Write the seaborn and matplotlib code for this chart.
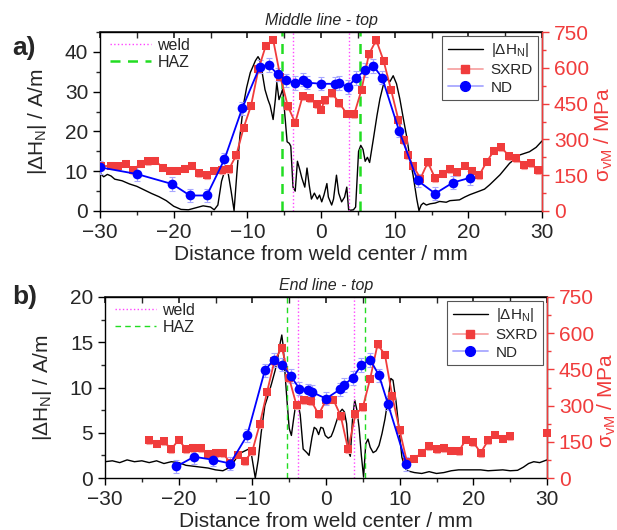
import numpy as np
import pandas as pd
import matplotlib
matplotlib.use("Agg")
import matplotlib.pyplot as plt
import seaborn as sns
from matplotlib.lines import Line2D
from matplotlib.ticker import MultipleLocator

# ---------------- data ----------------
# panel a) Middle line - top
TOP_H_X = [-30, -29.5, -29, -28.5, -28, -27, -26, -25, -24, -23, -22, -21, -20, -19, -18, -17, -16, -15,
           -14.5, -14.0, -13.5, -13.0, -12.6, -12.2, -11.8, -11.4, -11.0, -10.5, -10.1, -9.6, -9.2, -8.9,
           -8.55, -8.3, -8.05, -7.6, -7.2, -6.9, -6.5, -6.2, -6.0, -5.7, -5.4, -5.2, -4.9, -4.6, -4.3, -4.1,
           -3.8, -3.5, -3.2, -2.9, -2.6, -2.2, -1.9, -1.6, -1.3, -0.9, -0.5, -0.2, 0.1, 0.4, 0.8, 1.0, 1.45,
           1.7, 2.1, 2.4, 2.8, 3.2, 3.5, 3.75, 4.0, 4.4, 4.7, 5.1, 5.4, 5.7, 6.0, 6.3, 6.6, 7.1, 7.6, 8.0,
           8.5, 8.9, 9.35, 9.8, 10.25, 10.7, 11.2, 11.6, 12.1, 12.5, 13.0, 13.3, 13.6, 13.9, 14.3, 14.8, 15.5,
           16.1, 17.0, 17.5, 18.8, 19.5, 20.2, 21.5, 22.2, 22.9, 24.3, 25.6, 27.0, 28.3, 29.2, 30.0]
TOP_H_Y = [9.5, 8.6, 9.2, 8.8, 8.0, 7.6, 6.8, 6.2, 5.3, 4.4, 3.6, 2.6, 1.2, 0.4, 0.3, 0.8, 1.3, 1.0,
           0.3, 1.5, 7.5, 10.5, 9.5, 5.0, 0.1, 10.0, 19.0, 27.0, 31.0, 34.8, 36.5, 37.8,
           38.8, 38.0, 35.5, 30.5, 28.0, 26.5, 23.0, 28.0, 32.3, 28.0, 29.5, 30.7, 24.0, 17.4, 17.0, 16.3,
           6.0, 5.0, 12.5, 10.5, 8.3, 6.0, 10.8, 6.5, 3.0, 4.5, 3.0, 4.0, 2.3, 4.0, 6.9, 3.5, 1.5,
           3.0, 9.0, 4.5, 2.3, 3.5, 6.0, 0.3, 0.2, 0.3, 1.0, 15.0, 16.5, 15.5, 12.5, 13.5, 12.2, 18.0, 24.0, 28.2,
           32.0, 33.3, 32.5, 34.0, 32.0, 28.2, 23.0, 19.0, 13.0, 9.0, 3.0, 0.1, 1.5, 2.0, 1.5, 1.8, 2.0,
           2.4, 2.2, 2.6, 2.8, 3.5, 4.1, 5.0, 5.5, 6.6, 9.1, 12.0, 14.1, 14.9, 16.0, 17.6]

TOP_SXRD_X = [-29.8, -28.5, -27.5, -26.5, -25.5, -24.5, -23.5, -22.5, -21.5, -20.5,
              -19.5, -18.5, -17.5, -16.5, -15.5, -14.5, -13.5, -12.5, -11.5, -10.5,
              -9.5, -8.5, -7.5, -6.5, -5.5, -4.5, -3.5, -2.5, -1.5, -0.5,
              0.0, 0.5, 1.5, 2.5, 3.5, 4.5, 5.5, 6.5, 7.5, 8.5,
              9.5, 10.5, 11.2, 11.8, 12.5, 13.5, 14.5, 15.5, 16.5, 17.5,
              18.5, 19.5, 20.5, 21.5, 22.5, 23.5, 24.5, 25.5, 26.5, 27.5, 28.5, 29.5]
TOP_SXRD = [188, 189, 188, 199, 171, 199, 209, 211, 182, 169,
            169, 178, 190, 158, 150, 168, 170, 175, 234, 349,
            441, 593, 692, 718, 560, 439, 370, 480, 473, 447,
            425, 463, 494, 452, 407, 405, 508, 657, 716, 629,
            509, 383, 297, 233, 190, 136, 204, 137, 156, 176,
            162, 190, 169, 151, 207, 253, 267, 230, 222, 193, 200, 170]

TOP_ND_X = [-30.0, -25.0, -20.2, -17.8, -15.5, -13.1, -10.7, -8.3, -7.1, -5.9, -4.7, -3.5, -2.4, -1.9,
            0.0, 1.9, 2.4, 3.6, 4.8, 6.0, 7.1, 8.3, 10.6, 13.1, 15.5, 17.9, 20.2]
TOP_ND = [183, 155, 113, 65, 65, 217, 430, 605, 612, 573, 547, 537, 550, 538,
          533, 533, 537, 520, 558, 591, 608, 559, 336, 128, 73, 119, 139]

# panel b) End line - top
BOT_H_X = [-30, -29, -28, -27, -26, -25, -24, -23, -22, -21, -20, -19, -18, -17, -16, -15, -14, -13.5,
           -13, -12.5, -12, -11.5, -11, -10.5, -10.1, -9.6, -9.2, -8.8, -8.3, -7.9, -7.4, -6.9, -6.5,
           -6.2, -6.0, -5.8, -5.6, -5.3, -5.0, -4.7, -4.4, -4.1, -3.8, -3.5, -3.1, -2.6, -2.3, -1.9, -1.6,
           -1.3, -1.0, -0.7, -0.4, -0.1, 0.3, 0.7, 1.0, 1.4, 1.8, 2.2, 2.5, 2.8, 3.1, 3.3, 3.6, 3.9, 4.2,
           4.5, 4.8, 5.1, 5.4, 5.7, 6.0, 6.4, 6.8, 7.2, 7.6, 8.0, 8.4, 8.8, 9.1, 9.5, 9.9, 10.3, 10.7,
           11.0, 12.0, 13.0, 14.0, 15.0, 16.0, 17.0, 18.0, 19.0, 20.0, 21.0, 22.0, 23.0, 24.0, 25.0,
           26.0, 26.8, 27.5, 28.2, 29.0, 30.0]
BOT_H_Y = [1.8, 1.9, 1.7, 2.0, 1.8, 1.9, 1.7, 1.9, 1.6, 1.8, 1.7, 1.4, 1.3, 1.2, 1.1, 0.9, 0.8, 1.0,
           1.2, 1.8, 2.4, 2.8, 3.0, 3.2, 2.5, 0.0, 2.0, 5.0, 8.0, 9.0, 10.4, 11.9, 13.5,
           15.0, 15.8, 14.5, 12.0, 8.6, 5.5, 4.7, 6.5, 8.2, 8.3, 7.0, 3.2, 2.8, 2.5, 4.5, 5.6,
           5.4, 4.8, 5.6, 5.5, 4.7, 4.4, 4.6, 5.2, 6.2, 7.2, 7.6, 7.3, 6.0, 2.8, 2.4, 6.5, 8.6, 7.5,
           5.5, 2.5, 0.1, 3.8, 4.3, 3.4, 2.8, 3.0, 3.6, 4.9, 6.5, 8.6, 11.0, 10.8, 8.5, 5.5, 2.3, 1.2,
           0.8, 0.6, 0.5, 0.7, 0.5, 0.6, 0.8, 0.9, 0.9, 0.9, 0.9, 0.8, 0.85, 0.9, 0.8,
           0.85, 1.2, 1.6, 1.8, 1.7, 2.0]

BOT_SXRD_X = list(range(-24, 26))
BOT_SXRD = [156, 142, 152, 119, 159, 119, 124, 124, 101, 104,
            104, 62, 97, 70, 112, 222, 357, 485, 540, 413,
            301, 322, 319, 264, 322, 325, 257, 119, 264, 293,
            412, 554, 511, 338, 197, 66, 80, 105, 133, 119,
            124, 113, 110, 159, 149, 104, 156, 180, 163, 173]
BOT_SXRD_EDGE_X = [30]
BOT_SXRD_EDGE = [188]

BOT_ND_X = [-20.3, -17.9, -15.4, -13.0, -10.7, -8.3, -7.1, -6.0, -4.8, -3.6, -2.4, -1.9,
            0.0, 1.9, 2.4, 3.6, 4.8, 6.0, 7.2, 8.4, 10.9]
BOT_ND = [48, 88, 76, 60, 177, 446, 490, 470, 423, 370, 363, 356,
          329, 367, 385, 414, 468, 490, 425, 308, 59]

SXRD_ERR = 15
ND_ERR = 28
WELD = [-3.75, 3.75]
HAZ = [-5.25, 5.25]

TITLES = ["Middle line - top", "End line - top"]
PANEL_LABELS = ["a)", "b)"]

# ---------------- style ----------------
sns.set_theme(style="ticks")
plt.rcParams['font.family'] = ['Liberation Sans', 'DejaVu Sans']
plt.rcParams['mathtext.default'] = 'regular'

RED = "#f03c3c"
RED_LIGHT = "#f7a5a5"
BLUE = "#0000ff"
BLUE_LIGHT = "#a8a8ff"
MAGENTA = "#ff44ff"
GREEN = "#22dd22"
FS = 15

fig = plt.figure(figsize=(6.17, 5.30), dpi=100)
W, H = 617.0, 530.0


def panel(rect, hx, hy, sx, sy, nx, ny, ylim_left, ystep, title, plabel, haz_lw,
          edge_x=None, edge_y=None, lab_x=-0.115, rlab_x=1.116):
    ax = fig.add_axes(rect)
    sns.lineplot(x=hx, y=hy, ax=ax, color="black", lw=1.0, sort=False, estimator=None, legend=False)
    for xv in WELD:
        ax.axvline(xv, color=MAGENTA, ls=":", lw=1.0)
    for xv in HAZ:
        ax.axvline(xv, color=GREEN, ls=(0, (4, 3)), lw=haz_lw)
    ax.set_xlim(-30, 30)
    ax.set_ylim(0, ylim_left)
    ax.xaxis.set_major_locator(MultipleLocator(10))
    ax.xaxis.set_minor_locator(MultipleLocator(5))
    ax.yaxis.set_major_locator(MultipleLocator(ystep))
    ax.yaxis.set_minor_locator(MultipleLocator(ystep / 2))
    ax.tick_params(axis="both", which="major", labelsize=FS, length=5, width=1, direction="out", color="black")
    ax.tick_params(axis="both", which="minor", length=3, width=1, direction="out")
    secx = ax.secondary_xaxis("top")
    secx.xaxis.set_major_locator(MultipleLocator(10))
    secx.xaxis.set_minor_locator(MultipleLocator(5))
    secx.tick_params(which="both", direction="in", labeltop=False, length=4)
    for s in ax.spines.values():
        s.set_linewidth(1.0)
        s.set_color("black")
    ax.set_xlabel("Distance from weld center / mm", fontsize=FS, labelpad=2)
    ax.set_ylabel(r"|ΔH$_\mathregular{N}$| / A/m", fontsize=FS)
    ax.yaxis.set_label_coords(lab_x, 0.5)
    ax.set_title(title, fontsize=11.5, style="italic", pad=5)

    ax2 = ax.twinx()
    ax2.errorbar(sx, sy, yerr=SXRD_ERR, fmt="none", ecolor=RED_LIGHT, elinewidth=0.8, capsize=2, capthick=0.8)
    ax2.errorbar(nx, ny, yerr=ND_ERR, fmt="none", ecolor=BLUE_LIGHT, elinewidth=0.8, capsize=2, capthick=0.8)
    sns.lineplot(x=sx, y=sy, ax=ax2, color=RED, lw=1.3, marker="s", markersize=6,
                 markeredgecolor=RED, markeredgewidth=0, sort=False, estimator=None, legend=False)
    if edge_x is not None:
        sns.scatterplot(x=edge_x, y=edge_y, ax=ax2, color=RED, marker="s", s=36, linewidth=0,
                        legend=False, clip_on=False)
    sns.lineplot(x=nx, y=ny, ax=ax2, color=BLUE, lw=1.3, marker="o", markersize=7,
                 markeredgecolor=BLUE, markeredgewidth=0, sort=False, estimator=None, legend=False)
    ax2.set_ylim(0, 750)
    ax2.yaxis.set_major_locator(MultipleLocator(150))
    ax2.yaxis.set_minor_locator(MultipleLocator(75))
    ax2.tick_params(axis="y", which="major", labelsize=FS, length=5, width=1, colors=RED, direction="out")
    ax2.tick_params(axis="y", which="minor", length=3, width=1, colors=RED, direction="out")
    ax2.spines["right"].set_color(RED)
    ax2.spines["right"].set_linewidth(1.0)
    ax2.spines["left"].set_visible(False)
    ax2.spines["top"].set_visible(False)
    ax2.spines["bottom"].set_visible(False)
    ax2.set_ylabel(r"σ$_\mathregular{vM}$ / MPa", fontsize=FS, color=RED)
    ax2.yaxis.set_label_coords(rlab_x, 0.43)

    h1 = [Line2D([], [], color=MAGENTA, ls=":", lw=1.0),
          Line2D([], [], color=GREEN, ls=(0, (4, 3)), lw=haz_lw)]
    leg1 = ax2.legend(h1, ["weld", "HAZ"], loc="upper left", frameon=False, fontsize=11.5,
                      handlelength=2.6, handletextpad=0.4, labelspacing=0.1, borderaxespad=0.2,
                      bbox_to_anchor=(0.0, 1.02))
    h2 = [Line2D([], [], color="black", lw=1.0),
          Line2D([], [], color=RED_LIGHT, lw=1.3, marker="s", markersize=6, markerfacecolor=RED,
                 markeredgecolor=RED),
          Line2D([], [], color=BLUE_LIGHT, lw=1.3, marker="o", markersize=7, markerfacecolor=BLUE,
                 markeredgecolor=BLUE)]
    leg2 = ax2.legend(h2, [r"|ΔH$_\mathregular{N}$|", "SXRD", "ND"], loc="upper right", frameon=True,
                      fontsize=11, handlelength=2.3, handletextpad=0.5, labelspacing=0.25,
                      borderaxespad=0.25, borderpad=0.35, fancybox=False, edgecolor="#555555",
                      framealpha=1.0)
    leg2.get_frame().set_linewidth(0.8)
    ax2.add_artist(leg1)

    fig.text(12 / W, plabel[1], plabel[0], fontsize=19, fontweight="bold", va="center", ha="left")
    return ax, ax2


panel([100 / W, 1 - 211 / H, 442 / W, 179 / H], TOP_H_X, TOP_H_Y, TOP_SXRD_X, TOP_SXRD,
      TOP_ND_X, TOP_ND, 45, 10, TITLES[0], (PANEL_LABELS[0], 1 - 48 / H), 1.8,
      lab_x=-0.115, rlab_x=1.114)
panel([105 / W, 1 - 478 / H, 442 / W, 181 / H], BOT_H_X, BOT_H_Y, BOT_SXRD_X, BOT_SXRD,
      BOT_ND_X, BOT_ND, 20, 5, TITLES[1], (PANEL_LABELS[1], 1 - 297 / H), 1.0,
      edge_x=BOT_SXRD_EDGE_X, edge_y=BOT_SXRD_EDGE, lab_x=-0.115, rlab_x=1.11)

fig.savefig("out.png", dpi=100)
